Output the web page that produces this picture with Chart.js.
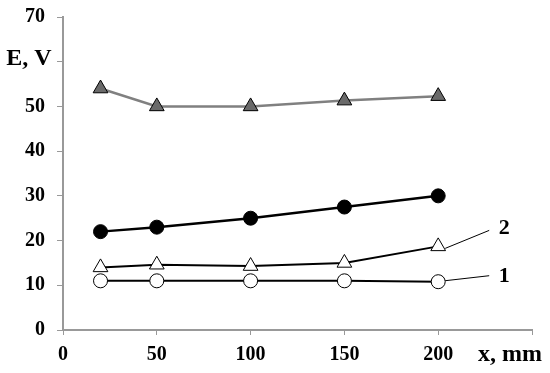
<!DOCTYPE html>
<html>
<head>
<meta charset="utf-8">
<script src="https://cdn.jsdelivr.net/npm/chart.js@4/dist/chart.umd.min.js"></script>
<style>
  html, body { margin: 0; padding: 0; background: #fff; }
  #wrap { width: 550px; height: 373px; position: relative; }
</style>
</head>
<body>
<div id="wrap"><canvas id="chart"></canvas></div>
<script>
// Data
const xValues = [20, 50, 100, 150, 200];
const grayTriangles = [54, 50, 50, 51.3, 52.3];
const blackCircles = [22, 23, 25, 27.5, 30];
const openTriangles = [14, 14.6, 14.3, 15, 18.7];   // curve 2
const openCircles = [11, 11, 11, 11, 10.8];         // curve 1
const yTicks = [0, 10, 20, 30, 40, 50, 60, 70];
const xTicks = [0, 50, 100, 150, 200, 250];
const yTitle = 'E, V';
const xTitle = 'x, mm';
const curveLabels = ['1', '2'];

const toPoints = (ys) => xValues.map((x, i) => ({ x: x, y: ys[i] }));
const FONT = "'Liberation Serif', 'Times New Roman', serif";

// Axis titles and the numbered leader lines
const extrasPlugin = {
  id: 'extras',
  afterDraw(chart) {
    const ctx = chart.ctx;
    const xs = chart.scales.x;
    const ys = chart.scales.y;
    ctx.save();
    ctx.fillStyle = '#000';
    ctx.font = 'bold 24px ' + FONT;
    ctx.textBaseline = 'middle';
    ctx.textAlign = 'center';
    ctx.fillText(yTitle, 29, ys.getPixelForValue(60) - 3);
    ctx.fillText(xTitle, xs.getPixelForValue(250) - 22, 355);

    // leader lines to curve labels
    const m1 = chart.getDatasetMeta(3).data[4];
    const m2 = chart.getDatasetMeta(2).data[4];
    ctx.strokeStyle = '#000';
    ctx.lineWidth = 1;
    ctx.beginPath();
    ctx.moveTo(m1.x + 7, m1.y - 1);
    ctx.lineTo(m1.x + 51, m1.y - 6);
    ctx.moveTo(m2.x + 7, m2.y + 2);
    ctx.lineTo(m2.x + 51, m2.y - 16);
    ctx.stroke();
    ctx.font = 'bold 22px ' + FONT;
    ctx.textAlign = 'center';
    ctx.fillText(curveLabels[0], m1.x + 66, m1.y - 5);
    ctx.fillText(curveLabels[1], m2.x + 66, m2.y - 18);
    ctx.restore();
  }
};

const ctx = document.getElementById('chart').getContext('2d');
new Chart(ctx, {
  type: 'line',
  data: {
    datasets: [{
      data: toPoints(grayTriangles),
      borderColor: '#808080',
      borderWidth: 2.5,
      pointStyle: 'triangle',
      pointRadius: 8.5,
      pointBackgroundColor: '#6a6a6a',
      pointBorderColor: '#000',
      pointBorderWidth: 1
    }, {
      data: toPoints(blackCircles),
      borderColor: '#000',
      borderWidth: 2.5,
      pointStyle: 'circle',
      pointRadius: 7,
      pointBackgroundColor: '#000',
      pointBorderColor: '#000',
      pointBorderWidth: 1
    }, {
      data: toPoints(openTriangles),
      borderColor: '#000',
      borderWidth: 2,
      pointStyle: 'triangle',
      pointRadius: 8.5,
      pointBackgroundColor: '#fff',
      pointBorderColor: '#000',
      pointBorderWidth: 1
    }, {
      data: toPoints(openCircles),
      borderColor: '#000',
      borderWidth: 2,
      pointStyle: 'circle',
      pointRadius: 7,
      pointBackgroundColor: '#fff',
      pointBorderColor: '#000',
      pointBorderWidth: 1
    }]
  },
  options: {
    responsive: true,
    maintainAspectRatio: false,
    animation: false,
    layout: { padding: { top: 17, right: 18, left: 0, bottom: 0 } },
    plugins: {
      legend: { display: false },
      tooltip: { enabled: false }
    },
    scales: {
      x: {
        type: 'linear',
        min: 0,
        max: 250,
        afterBuildTicks: (scale) => { scale.ticks = xTicks.map(v => ({ value: v })); },
        afterFit: (scale) => {
          scale.height = 43;
          scale.paddingLeft = 0;
          scale.paddingRight = 0;
        },
        border: { color: '#999', width: 2 },
        grid: { drawOnChartArea: false, drawTicks: true, tickLength: 5, color: '#999', lineWidth: 1 },
        ticks: {
          color: '#000',
          padding: 8,
          maxRotation: 0,
          font: { family: FONT, size: 20, weight: 'bold' },
          callback: (v) => (v === 250 ? '' : v)
        }
      },
      y: {
        min: 0,
        max: 70,
        afterBuildTicks: (scale) => { scale.ticks = yTicks.map(v => ({ value: v })); },
        afterFit: (scale) => {
          scale.width = 63;
          scale.paddingTop = 0;
          scale.paddingBottom = 0;
        },
        border: { color: '#999', width: 2 },
        grid: { drawOnChartArea: false, drawTicks: true, tickLength: 6, color: '#999', lineWidth: 1 },
        ticks: {
          color: '#000',
          padding: 12,
          font: { family: FONT, size: 20, weight: 'bold' },
          callback: (v) => (v === 60 ? '' : v)
        }
      }
    }
  },
  plugins: [extrasPlugin]
});
</script>
</body>
</html>
